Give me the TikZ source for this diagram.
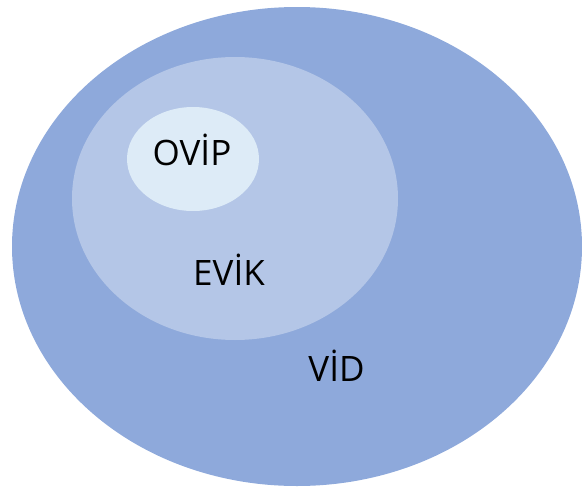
\documentclass[tikz,border=0pt]{standalone}
\usepackage{fontspec}
\setmainfont{Open Sans}
\definecolor{outerc}{HTML}{8EA9DB}
\definecolor{midc}{HTML}{B4C6E7}
\definecolor{innerc}{HTML}{DDEBF7}
\tikzset{
  lbl/.style={font=\fontsize{35}{40}\selectfont, text=black, anchor=base, inner sep=0pt},
  blob/.style={draw=none}
}
\begin{document}
\begin{tikzpicture}[x=1pt,y=-1pt]
\useasboundingbox (0,0) rectangle (582,488);
\fill[outerc] (297,246.5) ellipse [x radius=285, y radius=239.5];
\fill[midc] (235,198.5) ellipse [x radius=163, y radius=141.5];
\fill[innerc] (193,159) ellipse [x radius=66, y radius=52];
\node[lbl] (ovip) at (192,165) {OVİP};
\node[lbl] (evik) at (229,285) {EVİK};
\node[lbl] (vid) at (336.5,381) {VİD};
\end{tikzpicture}
\end{document}
